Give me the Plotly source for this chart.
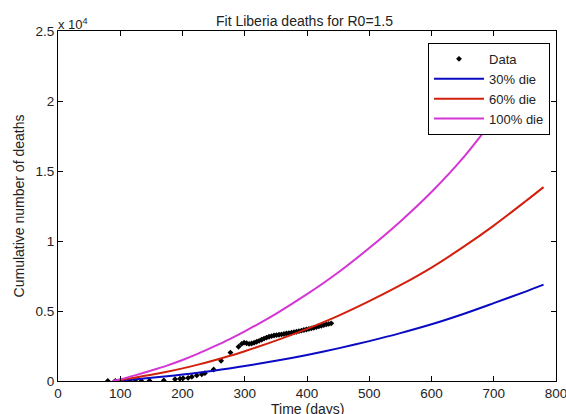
import plotly.graph_objects as go

# Observed data (days, cumulative deaths)
data_t = [80, 92, 101, 115, 124, 134, 147, 170, 188, 196, 201, 209, 215, 223, 231, 236,
          250, 262, 277, 290, 295, 299, 303, 307, 311, 315, 319, 323, 327, 331, 335, 339,
          343, 347, 351, 355, 359, 363, 367, 371, 375, 379, 383, 387, 391, 395, 399, 403,
          407, 411, 415, 419, 423, 427, 431, 435, 439]
data_v = [0, 0, 0, 0, 0, 0, 20, 40, 130, 160, 200, 220, 300, 400, 480, 560,
          820, 1450, 2030, 2450, 2650, 2740, 2700, 2650, 2680, 2730, 2800, 2870, 2950, 3030, 3100, 3160,
          3210, 3250, 3280, 3300, 3330, 3360, 3390, 3420, 3450, 3480, 3520, 3560, 3600, 3640, 3680, 3720,
          3760, 3800, 3850, 3900, 3950, 4000, 4040, 4080, 4120]

# Model curves
fit_t = [88, 100, 125, 150, 175, 200, 225, 250, 275, 300, 350, 400, 450, 500, 550, 600, 650, 700, 750, 780]
die30 = [0, 40, 130, 230, 340, 460, 590, 740, 900, 1070, 1440, 1860, 2330, 2850, 3420, 4050, 4770, 5560, 6370, 6880]
die60 = [0, 75, 255, 450, 660, 900, 1170, 1470, 1790, 2130, 2880, 3720, 4650, 5700, 6840, 8100, 9540, 11100, 12800, 13850]
die100 = [0, 120, 420, 750, 1100, 1500, 1950, 2450, 2980, 3550, 4800, 6200, 7750, 9500, 11400, 13500, 15900, 18700, 21600, 23400]

x_ticks = [0, 100, 200, 300, 400, 500, 600, 700, 800]
y_ticks = [0, 5000, 10000, 15000, 20000, 25000]
y_tick_text = ["0", "0.5", "1", "1.5", "2", "2.5"]

FONT = "Liberation Sans, Arial, sans-serif"

fig = go.Figure()
fig.add_trace(go.Scatter(x=data_t, y=data_v, mode="markers", name="Data",
                         marker=dict(symbol="diamond", size=4.5, color="black")))
fig.add_trace(go.Scatter(x=fit_t, y=die30, mode="lines", name="30% die",
                         line=dict(color="#0a0ac4", width=2, shape="spline", smoothing=0.8)))
fig.add_trace(go.Scatter(x=fit_t, y=die60, mode="lines", name="60% die",
                         line=dict(color="#d2200c", width=2, shape="spline", smoothing=0.8)))
fig.add_trace(go.Scatter(x=fit_t, y=die100, mode="lines", name="100% die",
                         line=dict(color="#d435d4", width=2, shape="spline", smoothing=0.8)))

fig.update_layout(
    width=566, height=414,
    margin=dict(l=58, r=10, t=31, b=33, autoexpand=False),
    paper_bgcolor="white", plot_bgcolor="white",
    font=dict(family=FONT, size=14, color="#222"),
    title=dict(text="Fit Liberia deaths for R0=1.5", x=0.538, xanchor="center",
               y=1 - 21 / 414, yanchor="middle", font=dict(size=14)),
    xaxis=dict(range=[0, 800], tickvals=x_ticks, showgrid=False, zeroline=False,
               showline=True, linecolor="black", linewidth=1, mirror="ticks",
               ticks="inside", ticklen=5, tickcolor="black", automargin=False,
               tickfont=dict(size=13.5), ticklabeloverflow="allow"),
    yaxis=dict(range=[0, 25000], tickvals=y_ticks, ticktext=y_tick_text, showgrid=False,
               zeroline=False, showline=True, linecolor="black", linewidth=1, mirror="ticks",
               ticks="inside", ticklen=5, tickcolor="black", automargin=False,
               tickfont=dict(size=13.5),
               title=dict(text="Cumulative number of deaths", font=dict(size=14), standoff=7)),
    legend=dict(x=0.988, y=0.966, xanchor="right", yanchor="top",
                bgcolor="white", bordercolor="black", borderwidth=1,
                font=dict(size=13), itemwidth=50, tracegroupgap=0),
    showlegend=True,
)

fig.add_annotation(text="x 10<sup>4</sup>", xref="paper", yref="paper", x=0, y=1,
                   xanchor="left", yanchor="bottom", showarrow=False,
                   font=dict(size=13), xshift=-2, yshift=-3)
fig.add_annotation(text="Time (days)", xref="paper", yref="paper", x=0.5, y=0,
                   xanchor="center", yanchor="top", showarrow=False,
                   font=dict(size=14), yshift=-18)

fig.write_html("out.html", config={"displayModeBar": False},
               post_script="document.body.style.margin='0px';document.body.style.overflow='hidden';")
